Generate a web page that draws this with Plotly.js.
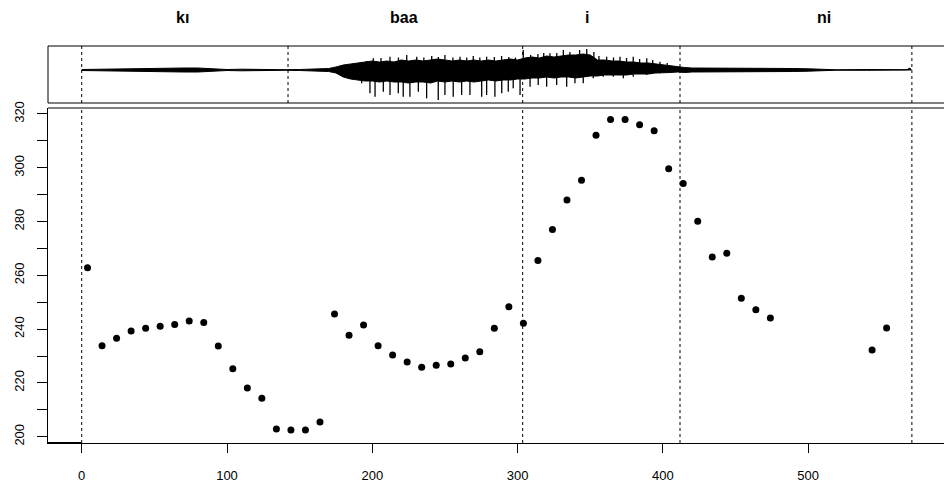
<!DOCTYPE html>
<html>
<head>
<meta charset="utf-8">
<script src="https://cdn.plot.ly/plotly-3.0.1.min.js"></script>
<style>
html,body{margin:0;padding:0;background:#fff;overflow:hidden;}
#chart{width:944px;height:489px;}
</style>
</head>
<body>
<div id="chart"></div>
<script>
// ---- pitch points (time, Hz) ----
const pitchTime = [4,14,24,34,44,54,64,74,84,94,104,114,124,134,144,154,164,174,184,194,
  204,214,224,234,244,254,264,274,284,294,304,314,324,334,344,354,364,374,384,394,
  404,414,424,434,444,454,464,474,544,554];
const pitchHz = [262.8,233.8,236.6,239.3,240.3,241.1,241.7,243.0,242.5,233.7,
  225.3,218.1,214.3,202.9,202.5,202.5,205.5,245.6,237.7,241.5,
  233.8,230.4,227.8,225.8,226.6,227.0,229.3,231.6,240.3,248.3,
  242.2,265.5,277.0,288.0,295.3,312.1,317.9,317.9,316.0,313.7,
  299.6,294.1,280.1,266.8,268.2,251.5,247.2,244.1,232.2,240.4];

// ---- syllable boundaries and labels ----
const boundaries = [0, 142, 303.5, 411.8, 571.4];
const syllables = ["kı", "baa", "i", "ni"];
const syllableX = [69.7, 221.8, 347.8, 510.9];

// ---- waveform envelope (time, upper, lower amplitude) ----
const waveT = [0,10,20,30,40,50,60,70,80,90,100,110,120,130,140,150,160,170,175,180,185,190,195,
  200,205,210,215,220,225,230,235,240,245,250,255,260,265,270,275,280,285,290,295,300,305,310,315,
  320,325,330,335,340,345,350,355,360,365,370,375,380,385,390,395,400,405,410,415,420,430,440,450,
  460,470,480,490,500,505,510,520,540,560,568,570,571];
const waveUp = [0.5,0.8,1,1.2,1.5,1.5,2,2,2,1.5,0.5,0.8,0.5,0.8,0.3,0.5,0.8,1.5,3,5,6,7,8,
  9,8,9,8,10,9,10,9,10,11,10,9,10,9,10,9,10,9,10,11,10,12,13,12,
  14,13,14,15,15,16,15,10,10,9,9,8,8,7,7,6,5,4,3,2.5,2,2,1.8,2,
  1.8,1.8,1.5,1.5,1.2,1,0.5,0.2,0.5,0.2,0.3,2,0];
const waveLo = [-0.5,-0.8,-1,-1.2,-1.5,-1.5,-2,-2,-2,-1.5,-0.5,-0.8,-0.5,-0.8,-0.3,-0.5,-0.8,-1.5,-3,-7,-9,-10,-11,
  -11,-12,-11,-12,-12,-13,-12,-12,-13,-11,-12,-11,-12,-11,-12,-11,-10,-11,-10,-10,-9,-9,-8,-8,
  -7,-8,-7,-7,-8,-7,-6,-6,-5,-5,-5,-5,-4,-4,-4,-3,-3,-2.5,-2,-2.5,-2,-2,-1.8,-2,
  -1.8,-1.8,-1.5,-1.5,-1.2,-1,-0.5,-0.2,-0.3,-0.2,-0.3,-0.3,0];

// ---- waveform spikes ----
const spikeDownT = [192.7,198.4,201.9,207.6,212.2,217.9,221.3,225.9,231.7,237.4,245.4,250.0,255.7,
  261.5,267.2,275.3,278.7,284.4,289.1,293.6,297.0,301.7,308.6,314.2,320.0,326.9,333.8,339.5,
  345.2,352.1,359.0,365.9,372.8,379.6,388.9,398.0];
const spikeDownA = [-13.3,-23.3,-26.7,-21.7,-25,-23.3,-26.7,-26.7,-21.7,-28.3,-30,-25,-26.7,
  -25,-25,-26.7,-25,-26.7,-23.3,-21.7,-18.3,-25,-16.7,-15,-16.7,-15,-16.7,-13.3,
  -13.3,-8.3,-6.7,-6.7,-8.3,-6.7,-5,-3.3];
const spikeUpT = [196.0,200.7,206.0,212.2,218.0,223.7,230.6,235.5,240.9,245.5,250.0,255.5,260.4,
  265.0,269.5,274.0,278.7,284.0,289.0,294.0,298.5,303.9,309.0,314.0,318.0,322.3,327.0,331.5,
  336.0,342.7,347.6,352.5,356.0,361.3,366.0,370.5,375.0,379.6,384.0,388.9,393.0,398.0,403.0];
const spikeUpA = [9,11.7,12,13.3,12.5,15,13.3,12.5,14,13,15,12.5,13.3,
  12.5,14,12.5,13.3,13,14,13,12.5,20,15,16,17,16.7,17,20,
  18,20,21,18,14,13.3,12.5,13.3,12,13.3,11,11.7,10,8.3,7];

// ---- axis ticks ----
const xTicks = [0,100,200,300,400,500];
const yTicks = [200,210,220,230,240,250,260,270,280,290,300,310,320];
const yTickText = ["200","","220","","240","","260","","280","","300","","320"];

function segs(ts, as) {
  const x = [], y = [];
  ts.forEach((t, i) => { x.push(t, t, null); y.push(0, as[i], null); });
  return {x, y};
}
const sd = segs(spikeDownT, spikeDownA);
const su = segs(spikeUpT, spikeUpA);

const traces = [
  {x: waveT, y: waveUp, xaxis: 'x', yaxis: 'y2', mode: 'lines', line: {color: '#000', width: 1}, hoverinfo: 'skip'},
  {x: waveT, y: waveLo, xaxis: 'x', yaxis: 'y2', mode: 'lines', fill: 'tonexty', fillcolor: '#000', line: {color: '#000', width: 1}, hoverinfo: 'skip'},
  {x: sd.x, y: sd.y, xaxis: 'x', yaxis: 'y2', mode: 'lines', line: {color: '#000', width: 1.3}, hoverinfo: 'skip'},
  {x: su.x, y: su.y, xaxis: 'x', yaxis: 'y2', mode: 'lines', line: {color: '#000', width: 1.3}, hoverinfo: 'skip'},
  {x: pitchTime, y: pitchHz, xaxis: 'x', yaxis: 'y', mode: 'markers', marker: {color: '#000', size: 7, line: {width: 0}}}
];

const shapes = [];
boundaries.forEach((b, i) => {
  shapes.push({type: 'line', xref: 'x', yref: 'y2 domain', x0: b, x1: b, y0: 0, y1: 1,
    line: {color: '#000', width: 1, dash: '3px,3px'}});
  if (i !== 1) {
    shapes.push({type: 'line', xref: 'x', yref: 'y domain', x0: b, x1: b, y0: 0, y1: 1,
      line: {color: '#000', width: 1, dash: '3px,3px'}});
  }
});
// panel borders
shapes.push({type: 'line', xref: 'paper', yref: 'y2 domain', x0: 0, x1: 1.01, y0: 1, y1: 1, line: {color: '#000', width: 1}});
shapes.push({type: 'line', xref: 'paper', yref: 'y2 domain', x0: 0, x1: 1.01, y0: 0, y1: 0, line: {color: '#000', width: 1}});
shapes.push({type: 'line', xref: 'paper', yref: 'y2 domain', x0: 0, x1: 0, y0: 0, y1: 1, line: {color: '#000', width: 1}});
shapes.push({type: 'line', xref: 'paper', yref: 'y domain', x0: 0, x1: 1.01, y0: 1, y1: 1, line: {color: '#000', width: 1}});
shapes.push({type: 'line', xref: 'x', yref: 'y domain', x0: -23.2, x1: 0, y0: 0, y1: 0, line: {color: '#000', width: 2}});

const annotations = syllables.map((s, i) => ({
  text: s, x: syllableX[i], xref: 'x', y: 1.072, yref: 'paper',
  showarrow: false, xanchor: 'center', yanchor: 'middle',
  font: {family: 'Liberation Sans, Arial, sans-serif', size: 16, color: '#000', weight: 'bold'}
}));

const layout = {
  width: 944, height: 489,
  margin: {l: 48, r: 0, t: 46, b: 46, pad: 0},
  paper_bgcolor: '#fff', plot_bgcolor: '#fff',
  showlegend: false,
  font: {family: 'Liberation Sans, Arial, sans-serif', size: 13, color: '#000'},
  xaxis: {
    range: [-23.2, 593.5], tickvals: xTicks, ticktext: xTicks.map(String),
    ticks: 'outside', ticklen: 9, tickwidth: 1, tickcolor: '#000',
    showline: true, linecolor: '#000', linewidth: 1, mirror: false,
    showgrid: false, zeroline: false, anchor: 'y', ticklabelstandoff: 11
  },
  yaxis: {
    domain: [0, 0.8438], range: [197.66, 322.2],
    tickvals: yTicks, ticktext: yTickText, tickangle: -90,
    ticks: 'outside', ticklen: 10, tickwidth: 1, tickcolor: '#000',
    showline: true, linecolor: '#000', linewidth: 1,
    showgrid: false, zeroline: false, ticklabelstandoff: 8
  },
  yaxis2: {
    domain: [0.8564, 1], range: [-33, 24],
    showticklabels: false, ticks: '', showgrid: false, zeroline: false, showline: false,
    anchor: 'x'
  },
  shapes: shapes,
  annotations: annotations
};

Plotly.newPlot('chart', traces, layout, {staticPlot: true, displayModeBar: false});
</script>
</body>
</html>
